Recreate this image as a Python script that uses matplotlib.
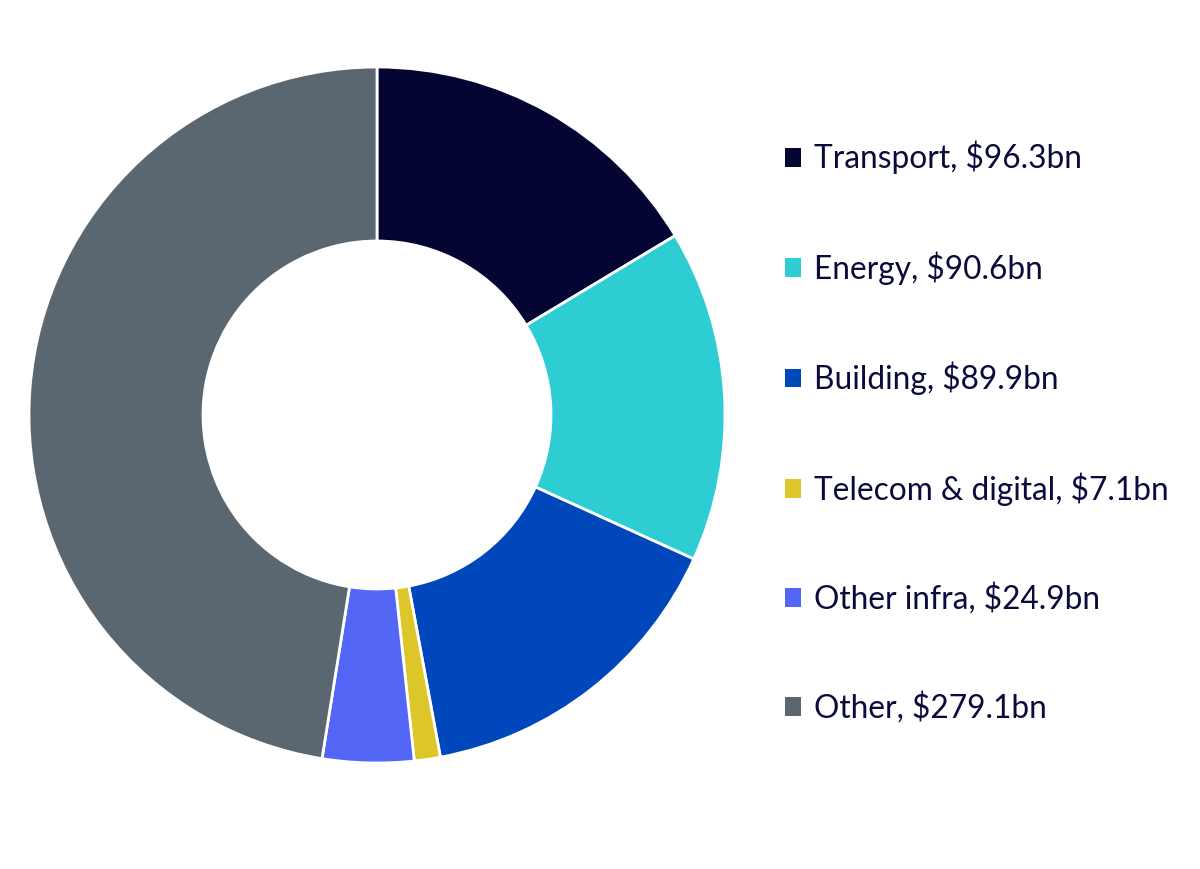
import matplotlib.pyplot as plt

plt.rcParams["font.family"] = ["Lato", "DejaVu Sans"]

sectors = ["Transport", "Energy", "Building", "Telecom & digital", "Other infra", "Other"]
values = [96.3, 90.6, 89.9, 7.1, 24.9, 279.1]
colors = ["#050533", "#2ECDD4", "#0047BB", "#DDC62A", "#5366F5", "#5B6770"]
labels = [f"{s}, ${v}bn" for s, v in zip(sectors, values)]

W, H = 1200, 869
fig = plt.figure(figsize=(W / 100, H / 100), dpi=100)
fig.patch.set_facecolor("white")

# donut position in pixels
cx, cy, r = 377, 415, 348
ax = fig.add_axes([(cx - r) / W, (H - cy - r) / H, 2 * r / W, 2 * r / H])
wedges, _ = ax.pie(values, colors=colors, startangle=90, counterclock=False,
                   radius=1, wedgeprops=dict(width=0.5, edgecolor="white", linewidth=2))
ax.set_xlim(-1, 1)
ax.set_ylim(-1, 1)
ax.set_aspect("equal")
ax.axis("off")

leg = fig.legend(wedges, labels, loc="upper left", bbox_to_anchor=(785 / W, 1 - 141 / H),
                 frameon=False, fontsize=22.8, labelcolor="#0B0B3B",
                 handlelength=0.52, handleheight=0.52, handletextpad=0.4,
                 labelspacing=2.43, borderpad=0, borderaxespad=0)
for h in leg.legend_handles:
    h.set_edgecolor("none")

fig.savefig("out.png", dpi=100)
